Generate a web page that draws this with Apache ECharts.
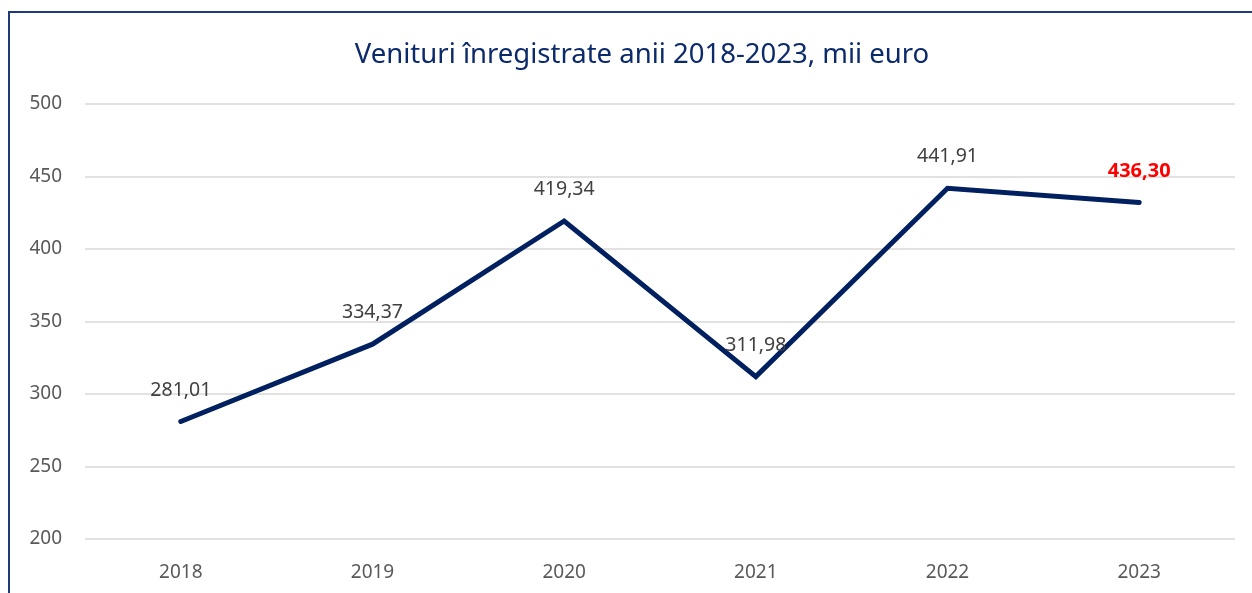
<!DOCTYPE html>
<html>
<head>
<meta charset="utf-8">
<script src="https://cdn.jsdelivr.net/npm/echarts@6/dist/echarts.min.js"></script>
<style>
  html, body { margin: 0; padding: 0; background: #fff; }
  #frame {
    position: absolute; left: 8px; top: 11px; width: 1300px; height: 700px;
    border-left: 2px solid #1f3a7a; border-top: 2px solid #1f3a7a;
  }
  #chart { position: absolute; left: 0; top: 0; width: 1252px; height: 593px; }
</style>
</head>
<body>
<div id="frame"></div>
<div id="chart"></div>
<script>
// date
const years = ['2018', '2019', '2020', '2021', '2022', '2023'];
const venituri = [281.01, 334.37, 419.34, 311.98, 441.91, 432];
const etichete = ['281,01', '334,37', '419,34', '311,98', '441,91', '436,30'];
const yTicks = [200, 250, 300, 350, 400, 450, 500];

const chart = echarts.init(document.getElementById('chart'));
const font = 'Noto Sans';

const option = {
  animation: false,
  title: {
    text: 'Venituri înregistrate anii 2018-2023, mii euro',
    left: 637,
    textAlign: 'center',
    top: 36,
    textStyle: { fontFamily: font, fontSize: 27.5, fontWeight: 'normal', color: '#0b2a6b' }
  },
  grid: { left: 85, right: 17, top: 104, bottom: 54 },
  xAxis: {
    type: 'category',
    data: years,
    boundaryGap: true,
    axisLine: { show: false },
    axisTick: { show: false },
    axisLabel: { fontFamily: font, fontSize: 19, color: '#595959', margin: 24 }
  },
  yAxis: {
    type: 'value',
    min: yTicks[0],
    max: yTicks[yTicks.length - 1],
    interval: 50,
    axisLine: { show: false },
    axisTick: { show: false },
    splitLine: { lineStyle: { color: '#d9d9d9', width: 1.5 } },
    axisLabel: { fontFamily: font, fontSize: 19, color: '#595959', margin: 23 }
  },
  series: [{
    type: 'line',
    data: venituri.map((v, i) => ({
      value: v,
      label: i === venituri.length - 1
        ? { color: '#ff0000', fontWeight: 'bold', fontSize: 20 }
        : {}
    })),
    symbol: 'circle',
    symbolSize: 1,
    itemStyle: { color: 'rgba(0,0,0,0)' },
    lineStyle: { color: '#002060', width: 5, cap: 'round', join: 'miter' },
    label: {
      show: true,
      position: 'top',
      distance: 21,
      fontFamily: font,
      fontSize: 19.5,
      color: '#404040',
      formatter: p => etichete[p.dataIndex]
    }
  }]
};

chart.setOption(option);
</script>
</body>
</html>
